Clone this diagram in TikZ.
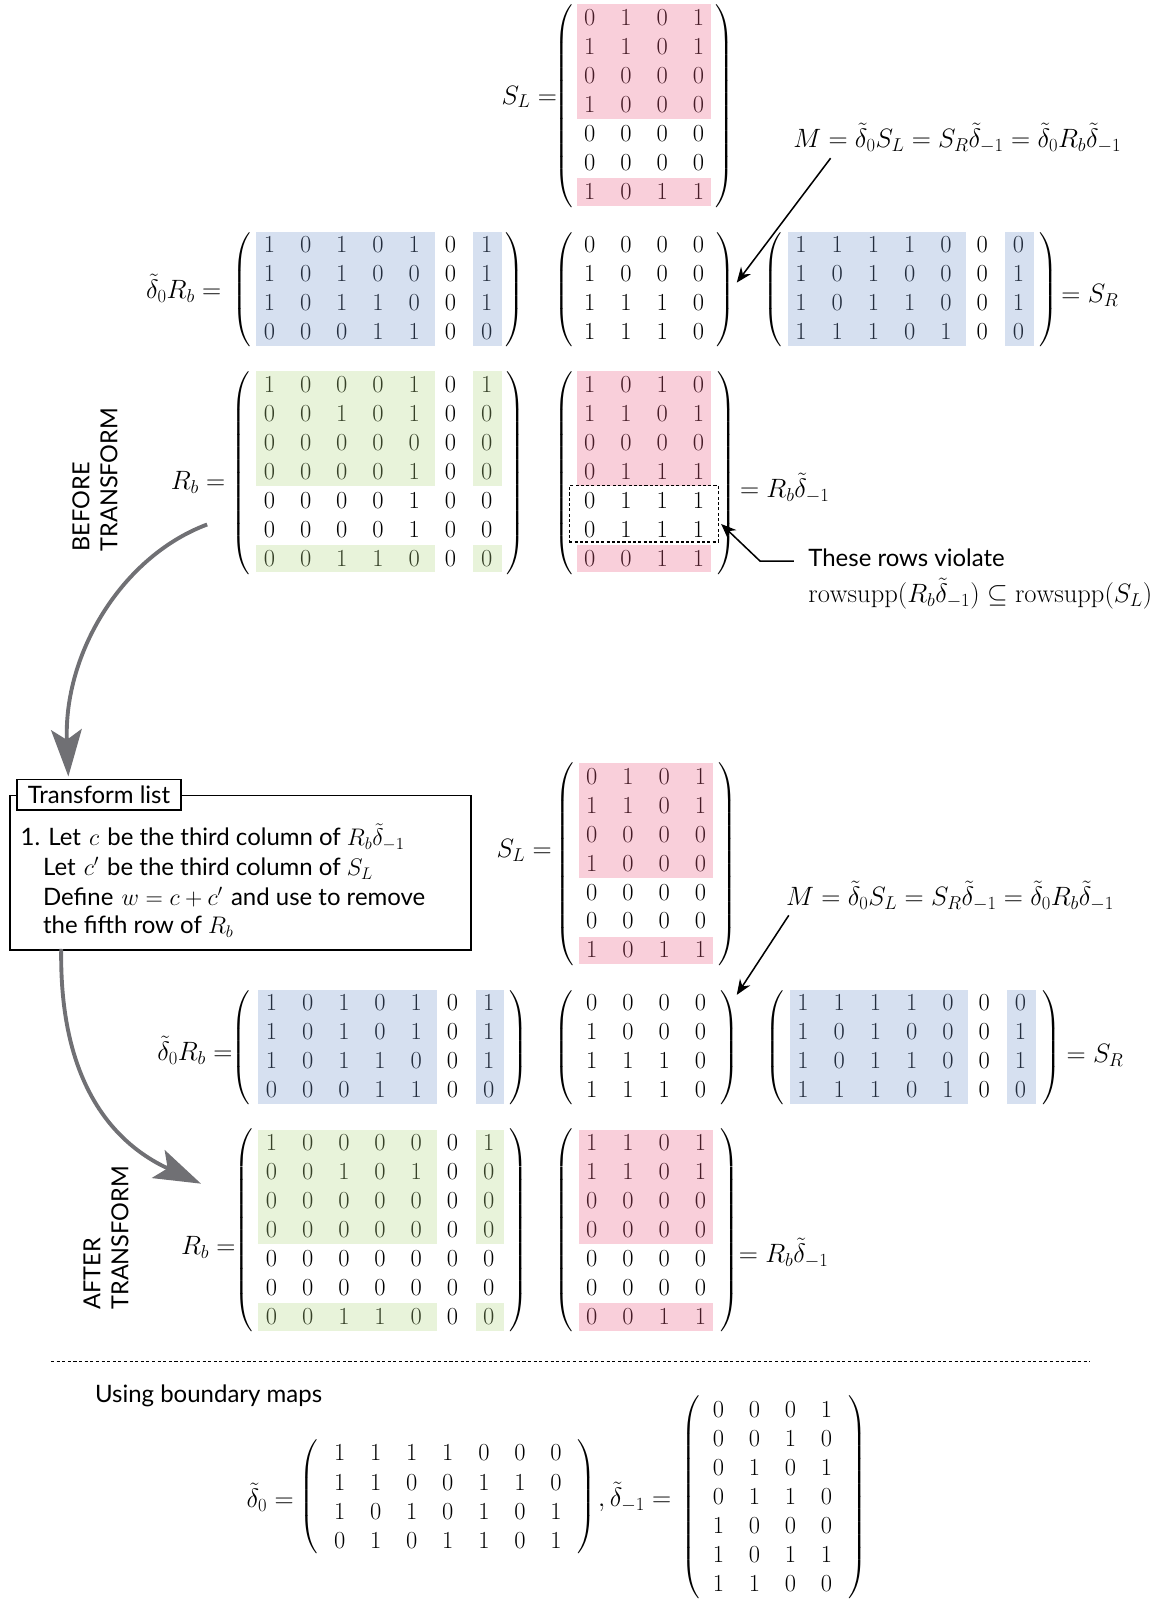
\RequirePackage{fix-cm}
\documentclass[tikz,border=0pt]{standalone}
\usepackage{fontspec}
\usepackage{amsmath}
\newfontfamily\latofont{Lato}
\usetikzlibrary{calc,arrows.meta}
\definecolor{pinkc}{RGB}{235,95,132}
\definecolor{bluec}{RGB}{118,151,205}
\definecolor{greenc}{RGB}{179,215,132}
\definecolor{arrgray}{RGB}{112,112,116}
\newcommand{\mf}{\fontsize{24}{28}\selectfont}
\newcommand{\lf}{\fontsize{26}{30}\selectfont}
\newcommand{\pf}{\fontsize{21}{24}\selectfont}
\newcommand{\tf}{\latofont\fontsize{23.5}{28}\selectfont}
\newcommand{\rotf}{\latofont\fontsize{23}{27.5}\selectfont}
\newcommand{\mtx}[6]{%
  \foreach \r [count=\i] in {#6} {
    \foreach \v [count=\j] in \r {
      \node[dig] (#1-\i-\j) at ({#2+(\j-1)*#4},{#3+(\i-1)*#5}) {$\v$};
    }
  }
}
\newcommand{\hl}[4]{\fill[#3,fill opacity=0.3] ($(#1)+(-13,-13)$) rectangle ($(#2)+(#4,14)$);}
\newcommand{\lp}[1]{$\left(\vcenter{\hbox{\rule{0pt}{#1pt}}}\right.$}
\newcommand{\rp}[1]{$\left.\vcenter{\hbox{\rule{0pt}{#1pt}}}\right)$}
\begin{document}
\begin{tikzpicture}[x=1pt,y=-1pt,
  dig/.style={inner sep=0pt,font=\mf},
  lab/.style={inner sep=0pt,font=\lf},
  txt/.style={inner sep=0pt,font=\tf},
  rottxt/.style={inner sep=0pt,font=\rotf,rotate=90,align=left},
  parn/.style={inner sep=0pt,font=\pf},
  blk/.style={line width=1.5pt,-{Stealth[length=15pt,width=12pt]}},
  garr/.style={line width=3.8pt,arrgray,-{Stealth[length=46pt,width=30pt,inset=10pt]}},
  dbox/.style={draw,line width=1.4pt,dash pattern=on 3pt off 2.2pt,inner sep=0pt}]
\useasboundingbox (0,0) rectangle (1139,1568);

% ===== BEFORE =====
\mtx{tSL}{578}{17}{35.5}{28.4}{{0,1,0,1},{1,1,0,1},{0,0,0,0},{1,0,0,0},{0,0,0,0},{0,0,0,0},{1,0,1,1}}
\hl{tSL-1-1}{tSL-4-4}{pinkc}{12}
\hl{tSL-7-1}{tSL-7-4}{pinkc}{12}
\node[parn] (tSLl) at (553,104) {\lp{192}};
\node[parn] (tSLr) at (710,104) {\rp{192}};
\node[lab,anchor=east] (tSLlab) at (546,95) {$S_L =$};

\node[lab] (Mt) at (938,135) {$M = \tilde\delta_0 S_L = S_R\tilde\delta_{-1} = \tilde\delta_0 R_b\tilde\delta_{-1}$};
\coordinate (Mta) at (814,155);
\coordinate (Mtb) at (722,277);
\draw[blk] (Mta) -- (Mtb);

\mtx{bDR}{264}{240}{35.5}{28.2}{{1,0,1,0,1,0,1},{1,0,1,0,0,0,1},{1,0,1,1,0,0,1},{0,0,0,1,1,0,0}}
\hl{bDR-1-1}{bDR-4-5}{bluec}{20}
\hl{bDR-1-7}{bDR-4-7}{bluec}{15}
\node[parn] (bDRl) at (238,284) {\lp{107}};
\node[parn] (bDRr) at (504,284) {\rp{107}};
\node[lab,anchor=east] (bDRlab) at (217,283) {$\tilde\delta_0 R_b =$};

\mtx{bM}{578}{240}{35.5}{28.2}{{0,0,0,0},{1,0,0,0},{1,1,1,0},{1,1,1,0}}
\node[parn] (bMl) at (553,284) {\lp{107}};
\node[parn] (bMr) at (711,284) {\rp{107}};

\mtx{bSR}{785}{240}{35.5}{28.2}{{1,1,1,1,0,0,0},{1,0,1,0,0,0,1},{1,0,1,1,0,0,1},{1,1,1,0,1,0,0}}
\hl{bSR-1-1}{bSR-4-5}{bluec}{20}
\hl{bSR-1-7}{bSR-4-7}{bluec}{15}
\node[parn] (bSRl) at (758,284) {\lp{107}};
\node[parn] (bSRr) at (1027,284) {\rp{107}};
\node[lab,anchor=west] (bSRlab) at (1040,290) {$= S_R$};

\mtx{bRb}{264}{377}{35.5}{28.33}{{1,0,0,0,1,0,1},{0,0,1,0,1,0,0},{0,0,0,0,0,0,0},{0,0,0,0,1,0,0},{0,0,0,0,1,0,0},{0,0,0,0,1,0,0},{0,0,1,1,0,0,0}}
\hl{bRb-1-1}{bRb-4-5}{greenc}{20}
\hl{bRb-1-7}{bRb-4-7}{greenc}{15}
\hl{bRb-7-1}{bRb-7-5}{greenc}{20}
\hl{bRb-7-7}{bRb-7-7}{greenc}{15}
\node[parn] (bRbl) at (237,463.5) {\lp{192}};
\node[parn] (bRbr) at (505,463.5) {\rp{192}};
\node[lab,anchor=east] (bRblab) at (221,473) {$R_b =$};

\mtx{bRD}{578}{377}{35.5}{28.33}{{1,0,1,0},{1,1,0,1},{0,0,0,0},{0,1,1,1},{0,1,1,1},{0,1,1,1},{0,0,1,1}}
\hl{bRD-1-1}{bRD-4-4}{pinkc}{12}
\hl{bRD-7-1}{bRD-7-4}{pinkc}{12}
\node[parn] (bRDl) at (553,463.5) {\lp{192}};
\node[parn] (bRDr) at (712,463.5) {\rp{192}};
\node[lab,anchor=west] (bRDlab) at (725,478) {$= R_b\tilde\delta_{-1}$};
\node[dbox,minimum width=146pt,minimum height=55pt] (dbx) at (631,503.5) {};

\node[txt,anchor=west] (viol) at (792,547) {These rows violate};
\node[lab,anchor=west] (viol2) at (792,582) {$\mathrm{rowsupp}(R_b\tilde\delta_{-1}) \subseteq \mathrm{rowsupp}(S_L)$};
\draw[blk] ($(viol.west)+(-14,3)$) -- ++(-33,0) -- ($(dbx.east)+(2,10)$);

\node[rottxt] (before) at (93,470) {BEFORE\\TRANSFORM};

\coordinate (g1s) at (203,514);
\coordinate (g1e) at (67,761);
\draw[garr] (g1s) .. controls (120,545) and (62,640) .. (g1e);

\node[draw,line width=1.5pt,minimum width=452pt,minimum height=151pt,anchor=north west,inner sep=0pt] (tbox) at (9,779) {};
\node[draw,fill=white,line width=1.5pt,anchor=north west,minimum height=30pt,inner xsep=10.5pt,inner ysep=0pt,font=\tf] (ttab) at (16,763) {Transform list};
\node[txt,anchor=base west] (t1) at (20,829) {1. Let\hspace{8pt}$c$\hspace{8pt}be the third column of $R_b\tilde\delta_{-1}$};
\node[txt,anchor=base west] (t2) at (42,858) {Let\hspace{8pt}$c'$\hspace{8pt}be the third column of $S_L$};
\node[txt,anchor=base west] (t3) at (42,887) {Define\hspace{8pt}$w=c+c'$\hspace{8pt}and use to remove};
\node[txt,anchor=base west] (t4) at (42,915) {the fifth row of $R_b$};

\coordinate (g2s) at (60,930);
\coordinate (g2e) at (197,1160);
\draw[garr] (g2s) .. controls (58,1060) and (110,1120) .. (g2e);

% ===== AFTER =====
\mtx{aSL}{580}{761}{35.5}{28.33}{{0,1,0,1},{1,1,0,1},{0,0,0,0},{1,0,0,0},{0,0,0,0},{0,0,0,0},{1,0,1,1}}
\hl{aSL-1-1}{aSL-4-4}{pinkc}{12}
\hl{aSL-7-1}{aSL-7-4}{pinkc}{12}
\node[parn] (aSLl) at (554,847) {\lp{192}};
\node[parn] (aSLr) at (713,847) {\rp{192}};
\node[lab,anchor=east] (aSLlab) at (541,833) {$S_L =$};

\node[lab] (Ma) at (931,878) {$M = \tilde\delta_0 S_L = S_R\tilde\delta_{-1} = \tilde\delta_0 R_b\tilde\delta_{-1}$};
\coordinate (Maa) at (773,897);
\coordinate (Mab) at (722,975);
\draw[blk] (Maa) -- (Mab);

\mtx{aDR}{266}{983}{35.5}{28.3}{{1,0,1,0,1,0,1},{1,0,1,0,1,0,1},{1,0,1,1,0,0,1},{0,0,0,1,1,0,0}}
\hl{aDR-1-1}{aDR-4-5}{bluec}{20}
\hl{aDR-1-7}{aDR-4-7}{bluec}{15}
\node[parn] (aDRl) at (237,1027) {\lp{107}};
\node[parn] (aDRr) at (508,1027) {\rp{107}};
\node[lab,anchor=east] (aDRlab) at (228,1029) {$\tilde\delta_0 R_b =$};

\mtx{aM}{580}{983}{35.5}{28.3}{{0,0,0,0},{1,0,0,0},{1,1,1,0},{1,1,1,0}}
\node[parn] (aMl) at (553,1027) {\lp{107}};
\node[parn] (aMr) at (715,1027) {\rp{107}};

\mtx{aSR}{787}{983}{35.5}{28.3}{{1,1,1,1,0,0,0},{1,0,1,0,0,0,1},{1,0,1,1,0,0,1},{1,1,1,0,1,0,0}}
\hl{aSR-1-1}{aSR-4-5}{bluec}{20}
\hl{aSR-1-7}{aSR-4-7}{bluec}{15}
\node[parn] (aSRl) at (760,1027) {\lp{107}};
\node[parn] (aSRr) at (1030,1027) {\rp{107}};
\node[lab,anchor=west] (aSRlab) at (1045,1034) {$= S_R$};

\mtx{aRb}{266}{1120}{35.5}{28.33}{{1,0,0,0,0,0,1},{0,0,1,0,1,0,0},{0,0,0,0,0,0,0},{0,0,0,0,0,0,0},{0,0,0,0,0,0,0},{0,0,0,0,0,0,0},{0,0,1,1,0,0,0}}
\hl{aRb-1-1}{aRb-4-5}{greenc}{20}
\hl{aRb-1-7}{aRb-4-7}{greenc}{15}
\hl{aRb-7-1}{aRb-7-5}{greenc}{20}
\hl{aRb-7-7}{aRb-7-7}{greenc}{15}
\node[parn] (aRbl) at (239,1206) {\lp{192}};
\node[parn] (aRbr) at (508,1206) {\rp{192}};
\node[lab,anchor=east] (aRblab) at (231,1222) {$R_b =$};

\mtx{aRD}{580}{1120}{35.5}{28.33}{{1,1,0,1},{1,1,0,1},{0,0,0,0},{0,0,0,0},{0,0,0,0},{0,0,0,0},{0,0,1,1}}
\hl{aRD-1-1}{aRD-4-4}{pinkc}{12}
\hl{aRD-7-1}{aRD-7-4}{pinkc}{12}
\node[parn] (aRDl) at (553,1206) {\lp{192}};
\node[parn] (aRDr) at (715,1206) {\rp{192}};
\node[lab,anchor=west] (aRDlab) at (724,1228) {$= R_b\tilde\delta_{-1}$};

\node[rottxt] (after) at (104,1213) {AFTER\\TRANSFORM};

\coordinate (sep1) at (50,1334);
\coordinate (sep2) at (1068,1334);
\draw[line width=1.4pt,dash pattern=on 3pt off 2.5pt] (sep1) -- (sep2);

\node[txt,anchor=west] (ubm) at (93,1368) {Using boundary maps};

\mtx{Dz}{333}{1424}{35.3}{28.6}{{1,1,1,1,0,0,0},{1,1,0,0,1,1,0},{1,0,1,0,1,0,1},{0,1,0,1,1,0,1}}
\node[parn] (Dzl) at (303,1467) {\lp{107}};
\node[parn] (Dzr) at (574,1467) {\rp{107}};
\node[lab,anchor=east] (Dzlab) at (288,1467) {$\tilde\delta_0 =$};
\node[lab,anchor=west] (Dmlab) at (586,1467) {$,\tilde\delta_{-1} =$};

\mtx{Dm}{704}{1381}{35.3}{28.5}{{0,0,0,1},{0,0,1,0},{0,1,0,1},{0,1,1,0},{1,0,0,0},{1,0,1,1},{1,1,0,0}}
\node[parn] (Dml) at (678,1467) {\lp{192}};
\node[parn] (Dmr) at (840,1467) {\rp{192}};
\end{tikzpicture}
\end{document}
